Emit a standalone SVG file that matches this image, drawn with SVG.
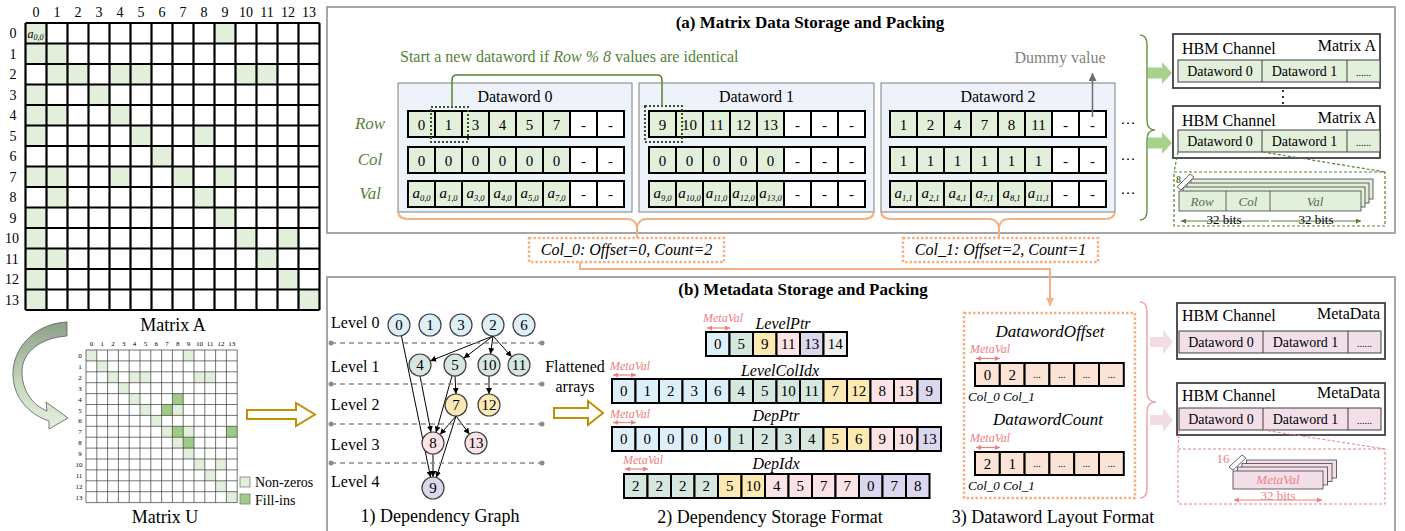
<svg xmlns="http://www.w3.org/2000/svg" width="1405" height="531" viewBox="0 0 1405 531">
<style>
text{font-family:'Liberation Serif','Times New Roman',serif;fill:#000}
.i{font-style:italic}
.b{font-weight:bold}
.c{text-anchor:middle}
.e{text-anchor:end}
.f7{font-size:7px}.f10{font-size:10px}.f12{font-size:12px}.f13{font-size:13px}.f14{font-size:14px}.f15{font-size:15px}.f16{font-size:16px}.f17{font-size:17px}.f18{font-size:18px}
.gt{fill:#548235}
.mv{fill:#ee8080;font-style:italic;font-size:12px}
.k{stroke:#000;stroke-width:2}
.B{fill:#ddeff8}.T{fill:#d5e7df}.Y{fill:#fde9b4}.P{fill:#fce3e6}.L{fill:#dbd7ee}.G{fill:#efefef}.O{fill:#fbe4d5}
.cg{fill:#e2efda;stroke:#000;stroke-width:2}
.cw{fill:#fff;stroke:#000;stroke-width:2}
.panel{fill:#fff;stroke:#a6a6a6;stroke-width:2}
.dw{fill:#eef3fb;stroke:#7f7f7f;stroke-width:1}
.nd{stroke:#404040;stroke-width:1.2}
.ed{stroke:#000;stroke-width:1;fill:none;marker-end:url(#ab)}
.or{stroke:#f4b183;fill:none;stroke-width:2}
.ord{stroke:#f4b183;fill:none;stroke-width:2.5;stroke-dasharray:2.5 2}
.pk{stroke:#ee8080;stroke-width:1.2;fill:none;marker-start:url(#ap);marker-end:url(#ap)}
.hb{fill:#fff;stroke:#404040;stroke-width:1.8}
.hg{fill:#e2efda;stroke:#404040;stroke-width:1}
.hp{fill:#f2dfe9;stroke:#404040;stroke-width:1}
.lv{stroke:#8c8c8c;stroke-width:1.5;stroke-dasharray:5 4}
</style>
<defs>
<linearGradient id="cgr" x1="0" y1="0" x2="0" y2="1">
<stop offset="0" stop-color="#8e9f89"/>
<stop offset="0.55" stop-color="#c4d6bb"/>
<stop offset="1" stop-color="#e6f1de"/>
</linearGradient>
<rect id="ga" width="21" height="20.5" fill="#e2efda"/>
<rect id="cgc" width="27" height="26" class="cg"/>
<rect id="cwc" width="27" height="26" class="cw"/>
<marker id="ab" viewBox="0 0 8 8" refX="8" refY="4" markerWidth="6" markerHeight="6" orient="auto" markerUnits="userSpaceOnUse"><path d="M0 0L8 4L0 8z" fill="#000"/></marker>
<marker id="ag" viewBox="0 0 8 8" refX="8" refY="4" markerWidth="8" markerHeight="8" orient="auto" markerUnits="userSpaceOnUse"><path d="M0 0L8 4L0 8z" fill="#6d6d6d"/></marker>
<marker id="ao" viewBox="0 0 8 8" refX="8" refY="4" markerWidth="8" markerHeight="8" orient="auto" markerUnits="userSpaceOnUse"><path d="M0 0L8 4L0 8z" fill="#f4b183"/></marker>
<marker id="ap" viewBox="0 0 8 8" refX="8" refY="4" markerWidth="5" markerHeight="5" orient="auto-start-reverse" markerUnits="userSpaceOnUse"><path d="M0 0L8 4L0 8z" fill="#ee8080"/></marker>
<marker id="agr" viewBox="0 0 8 8" refX="8" refY="4" markerWidth="5" markerHeight="5" orient="auto-start-reverse" markerUnits="userSpaceOnUse"><path d="M0 0L8 4L0 8z" fill="#548235"/></marker>
</defs>

<rect width="1405" height="531" fill="#fff"/>

<!-- Matrix A -->
<g id="matrixA">
<use href="#ga" x="25.5" y="23"/><use href="#ga" x="214.5" y="23"/>
<use href="#ga" x="25.5" y="43.5"/><use href="#ga" x="46.5" y="43.5"/>
<use href="#ga" x="46.5" y="64"/><use href="#ga" x="67.5" y="64"/><use href="#ga" x="109.5" y="64"/><use href="#ga" x="130.5" y="64"/><use href="#ga" x="235.5" y="64"/><use href="#ga" x="256.5" y="64"/>
<use href="#ga" x="25.5" y="84.5"/><use href="#ga" x="88.5" y="84.5"/>
<use href="#ga" x="25.5" y="105"/><use href="#ga" x="46.5" y="105"/><use href="#ga" x="109.5" y="105"/>
<use href="#ga" x="25.5" y="125.5"/><use href="#ga" x="130.5" y="125.5"/><use href="#ga" x="193.5" y="125.5"/>
<use href="#ga" x="151.5" y="146"/>
<use href="#ga" x="25.5" y="166.5"/><use href="#ga" x="46.5" y="166.5"/><use href="#ga" x="109.5" y="166.5"/><use href="#ga" x="172.5" y="166.5"/><use href="#ga" x="214.5" y="166.5"/>
<use href="#ga" x="46.5" y="187"/><use href="#ga" x="193.5" y="187"/>
<use href="#ga" x="25.5" y="207.5"/><use href="#ga" x="214.5" y="207.5"/>
<use href="#ga" x="25.5" y="228"/><use href="#ga" x="235.5" y="228"/><use href="#ga" x="277.5" y="228"/>
<use href="#ga" x="25.5" y="248.5"/><use href="#ga" x="46.5" y="248.5"/><use href="#ga" x="256.5" y="248.5"/>
<use href="#ga" x="25.5" y="269"/><use href="#ga" x="277.5" y="269"/>
<use href="#ga" x="25.5" y="289.5"/><use href="#ga" x="298.5" y="289.5"/>
<path fill="none" stroke="#000" stroke-width="2.2" d="M25.5 23V310M46.5 23V310M67.5 23V310M88.5 23V310M109.5 23V310M130.5 23V310M151.5 23V310M172.5 23V310M193.5 23V310M214.5 23V310M235.5 23V310M256.5 23V310M277.5 23V310M298.5 23V310M319.5 23V310M25.5 23H319.5M25.5 43.5H319.5M25.5 64H319.5M25.5 84.5H319.5M25.5 105H319.5M25.5 125.5H319.5M25.5 146H319.5M25.5 166.5H319.5M25.5 187H319.5M25.5 207.5H319.5M25.5 228H319.5M25.5 248.5H319.5M25.5 269H319.5M25.5 289.5H319.5M25.5 310H319.5"/>
<text class="i f12" x="27.5" y="38">a<tspan font-size="8" dy="2">0,0</tspan></text>
<text class="c f14" y="17"><tspan x="36">0</tspan><tspan x="57">1</tspan><tspan x="78">2</tspan><tspan x="99">3</tspan><tspan x="120">4</tspan><tspan x="141">5</tspan><tspan x="162">6</tspan><tspan x="183">7</tspan><tspan x="204">8</tspan><tspan x="225">9</tspan><tspan x="246">10</tspan><tspan x="267">11</tspan><tspan x="288">12</tspan><tspan x="309">13</tspan></text>
<text class="c f14"><tspan x="13" y="38">0</tspan><tspan x="13" y="58.5">1</tspan><tspan x="13" y="79">2</tspan><tspan x="13" y="99.5">3</tspan><tspan x="13" y="120">4</tspan><tspan x="13" y="140.5">5</tspan><tspan x="13" y="161">6</tspan><tspan x="13" y="181.5">7</tspan><tspan x="13" y="202">8</tspan><tspan x="13" y="222.5">9</tspan><tspan x="12" y="243">10</tspan><tspan x="12" y="263.5">11</tspan><tspan x="12" y="284">12</tspan><tspan x="12" y="304.5">13</tspan></text>
<text class="c f18" x="173" y="331">Matrix A</text>
</g>

<!-- curved arrow -->
<g id="curvedArrow">
<path d="M67 322C38 323 14 345 13 372C12 396 28 414 49 421L49 429L68 418L46 402L47 411C32 405 22 390 22 372C22 352 40 338 67 336Z" fill="url(#cgr)" stroke="#5a5a5a" stroke-width="0.8"/>
</g>

<!-- Matrix U -->
<g id="matrixU">
<g transform="translate(86 350) scale(10.8 10.9)">
<g fill="#e2efda">
<rect x="0" y="0" width="1" height="1"/><rect x="9" y="0" width="1" height="1"/><rect x="1" y="1" width="1" height="1"/>
<rect x="2" y="2" width="1" height="1"/><rect x="4" y="2" width="1" height="1"/><rect x="5" y="2" width="1" height="1"/><rect x="10" y="2" width="1" height="1"/><rect x="11" y="2" width="1" height="1"/>
<rect x="3" y="3" width="1" height="1"/><rect x="4" y="4" width="1" height="1"/><rect x="5" y="5" width="1" height="1"/><rect x="8" y="5" width="1" height="1"/>
<rect x="6" y="6" width="1" height="1"/><rect x="7" y="7" width="1" height="1"/><rect x="9" y="7" width="1" height="1"/><rect x="8" y="8" width="1" height="1"/>
<rect x="9" y="9" width="1" height="1"/><rect x="10" y="10" width="1" height="1"/><rect x="12" y="10" width="1" height="1"/><rect x="11" y="11" width="1" height="1"/>
<rect x="12" y="12" width="1" height="1"/><rect x="13" y="13" width="1" height="1"/>
</g>
<g fill="#9fcc85">
<rect x="8" y="4" width="1" height="1"/><rect x="7" y="5" width="1" height="1"/><rect x="8" y="7" width="1" height="1"/><rect x="13" y="7" width="1" height="1"/><rect x="9" y="8" width="1" height="1"/>
</g>
<path vector-effect="non-scaling-stroke" fill="none" stroke="#3a3a3a" stroke-width="0.7" d="M0 0V14M1 0V14M2 0V14M3 0V14M4 0V14M5 0V14M6 0V14M7 0V14M8 0V14M9 0V14M10 0V14M11 0V14M12 0V14M13 0V14M14 0V14M0 0H14M0 1H14M0 2H14M0 3H14M0 4H14M0 5H14M0 6H14M0 7H14M0 8H14M0 9H14M0 10H14M0 11H14M0 12H14M0 13H14M0 14H14"/>
</g>
<text class="c f7" y="346"><tspan x="91.4">0</tspan><tspan x="102.2">1</tspan><tspan x="113">2</tspan><tspan x="123.8">3</tspan><tspan x="134.6">4</tspan><tspan x="145.4">5</tspan><tspan x="156.2">6</tspan><tspan x="167">7</tspan><tspan x="177.8">8</tspan><tspan x="188.6">9</tspan><tspan x="199.4">10</tspan><tspan x="210.2">11</tspan><tspan x="221">12</tspan><tspan x="231.8">13</tspan></text>
<text class="c f7"><tspan x="80" y="358">0</tspan><tspan x="80" y="368.9">1</tspan><tspan x="80" y="379.8">2</tspan><tspan x="80" y="390.7">3</tspan><tspan x="80" y="401.6">4</tspan><tspan x="80" y="412.5">5</tspan><tspan x="80" y="423.4">6</tspan><tspan x="80" y="434.3">7</tspan><tspan x="80" y="445.2">8</tspan><tspan x="80" y="456.1">9</tspan><tspan x="79" y="467">10</tspan><tspan x="79" y="477.9">11</tspan><tspan x="79" y="488.8">12</tspan><tspan x="79" y="499.7">13</tspan></text>
<rect x="240" y="477" width="10" height="10" fill="#e2efda" stroke="#7f7f7f" stroke-width="0.8"/>
<text class="f14" x="255" y="487">Non-zeros</text>
<rect x="240" y="494" width="10" height="10" fill="#9fcc85" stroke="#7f7f7f" stroke-width="0.8"/>
<text class="f14" x="255" y="505">Fill-ins</text>
<text class="c f18" x="165" y="523">Matrix U</text>
</g>

<!-- hollow arrow 1 -->
<g id="hollowArrow1"><path d="M247 410H296V403L315 414.5L296 426V419H247Z" fill="#fff" stroke="#bf9000" stroke-width="2"/></g>

<!-- Panels -->
<rect class="panel" x="327" y="7" width="1068" height="226"/>
<rect class="panel" x="327" y="277" width="1068" height="262"/>
<text class="c b f17" x="810" y="28">(a) Matrix Data Storage and Packing</text>
<text class="c b f17" x="803" y="295">(b) Metadata Storage and Packing</text>

<!-- (a) -->
<text class="f16 gt" x="400" y="62">Start a new dataword if <tspan class="i">Row % 8</tspan> values are identical</text>
<g class="i f17 gt"><text class="c gt" x="370" y="129">Row</text><text class="c gt" x="370" y="165">Col</text><text class="c gt" x="370" y="199">Val</text></g>

<g id="dataword0">
<rect class="dw" x="398" y="83" width="234" height="129"/>
<text class="c f16" x="515" y="102">Dataword 0</text>
<use href="#cgc" x="408" y="111"/><use href="#cgc" x="435" y="111"/><use href="#cgc" x="462" y="111"/><use href="#cgc" x="489" y="111"/><use href="#cgc" x="516" y="111"/><use href="#cgc" x="543" y="111"/><use href="#cwc" x="570" y="111"/><use href="#cwc" x="597" y="111"/>
<use href="#cgc" x="408" y="147"/><use href="#cgc" x="435" y="147"/><use href="#cgc" x="462" y="147"/><use href="#cgc" x="489" y="147"/><use href="#cgc" x="516" y="147"/><use href="#cgc" x="543" y="147"/><use href="#cwc" x="570" y="147"/><use href="#cwc" x="597" y="147"/>
<use href="#cgc" x="408" y="181"/><use href="#cgc" x="435" y="181"/><use href="#cgc" x="462" y="181"/><use href="#cgc" x="489" y="181"/><use href="#cgc" x="516" y="181"/><use href="#cgc" x="543" y="181"/><use href="#cwc" x="570" y="181"/><use href="#cwc" x="597" y="181"/>
<text class="c f15" y="129.5"><tspan x="421.5">0</tspan><tspan x="448.5">1</tspan><tspan x="475.5">3</tspan><tspan x="502.5">4</tspan><tspan x="529.5">5</tspan><tspan x="556.5">7</tspan><tspan x="583.5">-</tspan><tspan x="610.5">-</tspan></text>
<text class="c f15" y="165.5"><tspan x="421.5">0</tspan><tspan x="448.5">0</tspan><tspan x="475.5">0</tspan><tspan x="502.5">0</tspan><tspan x="529.5">0</tspan><tspan x="556.5">0</tspan><tspan x="583.5">-</tspan><tspan x="610.5">-</tspan></text>
<text class="c f15 i"><tspan x="421.5" y="198">a<tspan font-size="8.5" dy="3">0,0</tspan></tspan><tspan x="448.5" y="198">a<tspan font-size="8.5" dy="3">1,0</tspan></tspan><tspan x="475.5" y="198">a<tspan font-size="8.5" dy="3">3,0</tspan></tspan><tspan x="502.5" y="198">a<tspan font-size="8.5" dy="3">4,0</tspan></tspan><tspan x="529.5" y="198">a<tspan font-size="8.5" dy="3">5,0</tspan></tspan><tspan x="556.5" y="198">a<tspan font-size="8.5" dy="3">7,0</tspan></tspan><tspan x="583.5" y="199" font-style="normal">-</tspan><tspan x="610.5" y="199" font-style="normal">-</tspan></text>
</g>

<g id="dataword1">
<rect class="dw" x="639" y="83" width="235" height="129"/>
<text class="c f16" x="756.5" y="102">Dataword 1</text>
<use href="#cgc" x="649" y="111"/><use href="#cgc" x="676" y="111"/><use href="#cgc" x="703" y="111"/><use href="#cgc" x="730" y="111"/><use href="#cgc" x="757" y="111"/><use href="#cwc" x="784" y="111"/><use href="#cwc" x="811" y="111"/><use href="#cwc" x="838" y="111"/>
<use href="#cgc" x="649" y="147"/><use href="#cgc" x="676" y="147"/><use href="#cgc" x="703" y="147"/><use href="#cgc" x="730" y="147"/><use href="#cgc" x="757" y="147"/><use href="#cwc" x="784" y="147"/><use href="#cwc" x="811" y="147"/><use href="#cwc" x="838" y="147"/>
<use href="#cgc" x="649" y="181"/><use href="#cgc" x="676" y="181"/><use href="#cgc" x="703" y="181"/><use href="#cgc" x="730" y="181"/><use href="#cgc" x="757" y="181"/><use href="#cwc" x="784" y="181"/><use href="#cwc" x="811" y="181"/><use href="#cwc" x="838" y="181"/>
<text class="c f15" y="129.5"><tspan x="662.5">9</tspan><tspan x="689.5">10</tspan><tspan x="716.5">11</tspan><tspan x="743.5">12</tspan><tspan x="770.5">13</tspan><tspan x="797.5">-</tspan><tspan x="824.5">-</tspan><tspan x="851.5">-</tspan></text>
<text class="c f15" y="165.5"><tspan x="662.5">0</tspan><tspan x="689.5">0</tspan><tspan x="716.5">0</tspan><tspan x="743.5">0</tspan><tspan x="770.5">0</tspan><tspan x="797.5">-</tspan><tspan x="824.5">-</tspan><tspan x="851.5">-</tspan></text>
<text class="c f15 i"><tspan x="662.5" y="198">a<tspan font-size="8.5" dy="3">9,0</tspan></tspan><tspan x="689.5" y="198">a<tspan font-size="8.5" dy="3">10,0</tspan></tspan><tspan x="716.5" y="198">a<tspan font-size="8.5" dy="3">11,0</tspan></tspan><tspan x="743.5" y="198">a<tspan font-size="8.5" dy="3">12,0</tspan></tspan><tspan x="770.5" y="198">a<tspan font-size="8.5" dy="3">13,0</tspan></tspan><tspan x="797.5" y="199" font-style="normal">-</tspan><tspan x="824.5" y="199" font-style="normal">-</tspan><tspan x="851.5" y="199" font-style="normal">-</tspan></text>
</g>

<g id="dataword2">
<rect class="dw" x="881" y="83" width="234" height="129"/>
<text class="c f16" x="998" y="102">Dataword 2</text>
<use href="#cgc" x="890" y="111"/><use href="#cgc" x="917" y="111"/><use href="#cgc" x="944" y="111"/><use href="#cgc" x="971" y="111"/><use href="#cgc" x="998" y="111"/><use href="#cgc" x="1025" y="111"/><use href="#cwc" x="1052" y="111"/><use href="#cwc" x="1079" y="111"/>
<use href="#cgc" x="890" y="147"/><use href="#cgc" x="917" y="147"/><use href="#cgc" x="944" y="147"/><use href="#cgc" x="971" y="147"/><use href="#cgc" x="998" y="147"/><use href="#cgc" x="1025" y="147"/><use href="#cwc" x="1052" y="147"/><use href="#cwc" x="1079" y="147"/>
<use href="#cgc" x="890" y="181"/><use href="#cgc" x="917" y="181"/><use href="#cgc" x="944" y="181"/><use href="#cgc" x="971" y="181"/><use href="#cgc" x="998" y="181"/><use href="#cgc" x="1025" y="181"/><use href="#cwc" x="1052" y="181"/><use href="#cwc" x="1079" y="181"/>
<text class="c f15" y="129.5"><tspan x="903.5">1</tspan><tspan x="930.5">2</tspan><tspan x="957.5">4</tspan><tspan x="984.5">7</tspan><tspan x="1011.5">8</tspan><tspan x="1038.5">11</tspan><tspan x="1065.5">-</tspan><tspan x="1092.5">-</tspan></text>
<text class="c f15" y="165.5"><tspan x="903.5">1</tspan><tspan x="930.5">1</tspan><tspan x="957.5">1</tspan><tspan x="984.5">1</tspan><tspan x="1011.5">1</tspan><tspan x="1038.5">1</tspan><tspan x="1065.5">-</tspan><tspan x="1092.5">-</tspan></text>
<text class="c f15 i"><tspan x="903.5" y="198">a<tspan font-size="8.5" dy="3">1,1</tspan></tspan><tspan x="930.5" y="198">a<tspan font-size="8.5" dy="3">2,1</tspan></tspan><tspan x="957.5" y="198">a<tspan font-size="8.5" dy="3">4,1</tspan></tspan><tspan x="984.5" y="198">a<tspan font-size="8.5" dy="3">7,1</tspan></tspan><tspan x="1011.5" y="198">a<tspan font-size="8.5" dy="3">8,1</tspan></tspan><tspan x="1038.5" y="198">a<tspan font-size="8.5" dy="3">11,1</tspan></tspan><tspan x="1065.5" y="199" font-style="normal">-</tspan><tspan x="1092.5" y="199" font-style="normal">-</tspan></text>
</g>
<text class="c f15" y="128"><tspan x="1128">···</tspan><tspan x="1128" y="164">···</tspan><tspan x="1128" y="198">···</tspan></text>

<text class="c f16" x="1060" y="63" style="fill:#7f7f7f">Dummy value</text>

<!-- HBM (a) -->
<g id="hbmA1">
<rect class="hb" x="1173" y="34" width="207" height="54"/>
<text class="f16" x="1182" y="54">HBM Channel</text>
<text class="f16 e" x="1376" y="51">Matrix A</text>
<rect class="hg" x="1178" y="60" width="202" height="22"/>
<path d="M1262 60V82M1347 60V82" stroke="#404040" stroke-width="1"/>
<text class="c f14" x="1220" y="76">Dataword 0</text>
<text class="c f14" x="1304.5" y="76">Dataword 1</text>
<text class="c f10" x="1363.5" y="76">......</text>
</g>
<g id="hbmDots"><circle cx="1283" cy="91" r="1.1"/><circle cx="1283" cy="97" r="1.1"/><circle cx="1283" cy="103" r="1.1"/></g>
<g id="hbmA2">
<rect class="hb" x="1173" y="106" width="207" height="52"/>
<text class="f16" x="1182" y="126">HBM Channel</text>
<text class="f16 e" x="1376" y="123">Matrix A</text>
<rect class="hg" x="1178" y="130" width="202" height="22"/>
<path d="M1262 130V152M1347 130V152" stroke="#404040" stroke-width="1"/>
<text class="c f14" x="1220" y="146">Dataword 0</text>
<text class="c f14" x="1304.5" y="146">Dataword 1</text>
<text class="c f10" x="1363.5" y="146">......</text>
</g>
<g id="packA">
<rect x="1174" y="172" width="211" height="54" fill="none" stroke="#548235" stroke-width="1.2" stroke-dasharray="3 2"/>
<path d="M1178 152L1174 172M1263 152L1385 172" stroke="#548235" stroke-width="1.2" stroke-dasharray="3 2" fill="none"/>
<g fill="#e2efda" stroke="#404040" stroke-width="0.8">
<rect x="1191" y="179" width="182" height="20"/>
<rect x="1187" y="183" width="182" height="20"/>
<rect x="1183" y="187" width="182" height="20"/>
<rect x="1179" y="191" width="182" height="20"/>
</g>
<path d="M1226 191V211M1270 191V211" stroke="#404040" stroke-width="0.8"/>
<polygon points="1177,187 1190,174 1194,177 1181,190" fill="#fff" stroke="#404040" stroke-width="0.8"/>
<text class="b f10 gt" x="1176" y="183">8</text>
<text class="c i f13" x="1202" y="206" style="fill:#5b6b52">Row</text>
<text class="c i f13" x="1248" y="206" style="fill:#5b6b52">Col</text>
<text class="c i f13" x="1315" y="206" style="fill:#5b6b52">Val</text>
<path d="M1181 221H1269M1271 221H1361" stroke="#548235" stroke-width="1" marker-start="url(#agr)" marker-end="url(#agr)" fill="none"/>
<text class="c f13" x="1224" y="224">32 bits</text>
<text class="c f13" x="1316" y="224">32 bits</text>
</g>
<g id="arrowsA">
<path d="M1140 35Q1147 35 1147 45V120Q1147 130 1155 130Q1147 130 1147 140V210Q1147 220 1140 220" fill="none" stroke="#6a9a4a" stroke-width="1.5"/>
<path d="M1148 67.5H1162V62L1172 73L1162 84V78.5H1148Z" fill="#a9d18e"/>
<path d="M1148 137.5H1162V132L1172 143L1162 154V148.5H1148Z" fill="#a9d18e"/>
</g>

<!-- offset boxes -->
<g id="col0box"><rect class="ord" x="529" y="238" width="195" height="24"/><text class="c i f16" x="626.5" y="255">Col_0: Offset=0, Count=2</text></g>
<g id="col1box"><rect class="ord" x="903" y="238" width="195" height="24"/><text class="c i f16" x="1000.5" y="255">Col_1: Offset=2, Count=1</text></g>

<!-- connectors -->
<g id="connectors">
<rect x="431" y="107" width="37" height="35" fill="none" stroke="#375623" stroke-width="2" stroke-dasharray="2 2"/>
<rect x="645" y="106" width="37" height="36" fill="none" stroke="#375623" stroke-width="2" stroke-dasharray="2 2"/>
<path d="M452 107V80Q452 75 457 75H657Q662 75 662 80V106" fill="none" stroke="#548235" stroke-width="1.5"/>
<path d="M1092.5 117V73" stroke="#6d6d6d" stroke-width="1.5" marker-end="url(#ag)"/>
<path class="or" d="M398 212Q399 219 408 219H627Q636 219 637 228Q638 219 647 219H864Q873 219 874 212M637 228V238"/>
<path class="or" d="M881 212Q882 219 891 219H989Q998 219 999 228Q1000 219 1009 219H1105Q1114 219 1115 212M999 228V238"/>
<path class="or" d="M580 262V269H1050V306" marker-end="url(#ao)"/>
<line class="ed" x1="401.4" y1="335.7" x2="430.6" y2="477.3"/>
<line class="ed" x1="493" y1="336" x2="430.2" y2="360.9"/>
<line class="ed" x1="493" y1="336" x2="463.7" y2="358.3"/>
<line class="ed" x1="493" y1="336" x2="490.5" y2="354.1"/>
<line class="ed" x1="493" y1="336" x2="511.7" y2="356.8"/>
<line class="ed" x1="455" y1="376" x2="456" y2="394"/>
<line class="ed" x1="489" y1="376" x2="489" y2="394"/>
<line class="ed" x1="420" y1="376" x2="431" y2="432"/>
<line class="ed" x1="452" y1="376" x2="436" y2="432.5"/>
<line class="ed" x1="456" y1="416" x2="440.1" y2="434.6"/>
<line class="ed" x1="456" y1="416" x2="469.5" y2="434.2"/>
<line class="ed" x1="456" y1="416" x2="436.3" y2="477.5"/>
<line class="ed" x1="433" y1="454" x2="433" y2="477"/>
<path d="M1140 302Q1147 302 1147 312V392Q1147 402 1156 402Q1147 402 1147 412V488Q1147 498 1140 498" fill="none" stroke="#f4a3a3" stroke-width="1.5"/>
<path d="M1150 337H1163V330L1173 342L1163 354V347H1150Z" fill="#f2dce6"/>
<path d="M1150 415H1163V408L1173 420L1163 432V425H1150Z" fill="#f2dce6"/>
</g>

<!-- (b) dependency graph -->
<g id="levels">
<text class="f16" x="331" y="328">Level 0</text>
<text class="f16" x="331" y="372">Level 1</text>
<text class="f16" x="331" y="410">Level 2</text>
<text class="f16" x="331" y="450">Level 3</text>
<text class="f16" x="331" y="487">Level 4</text>
<path class="lv" d="M331 343H542M331 384H542M331 424H542M331 463H542"/>
<g fill="#8c8c8c"><circle cx="331" cy="343" r="2.5"/><circle cx="542" cy="343" r="2.5"/><circle cx="331" cy="384" r="2.5"/><circle cx="542" cy="384" r="2.5"/><circle cx="331" cy="424" r="2.5"/><circle cx="542" cy="424" r="2.5"/><circle cx="331" cy="463" r="2.5"/><circle cx="542" cy="463" r="2.5"/></g>
</g>
<g id="node0"><circle class="nd B" cx="399" cy="325" r="11"/><text class="c f15" x="399" y="330">0</text></g>
<g id="node1"><circle class="nd B" cx="430" cy="325" r="11"/><text class="c f15" x="430" y="330">1</text></g>
<g id="node3"><circle class="nd B" cx="461" cy="325" r="11"/><text class="c f15" x="461" y="330">3</text></g>
<g id="node2"><circle class="nd B" cx="493" cy="325" r="11"/><text class="c f15" x="493" y="330">2</text></g>
<g id="node6"><circle class="nd B" cx="524" cy="325" r="11"/><text class="c f15" x="524" y="330">6</text></g>
<g id="node4"><circle class="nd T" cx="420" cy="365" r="11"/><text class="c f15" x="420" y="370">4</text></g>
<g id="node5"><circle class="nd T" cx="455" cy="365" r="11"/><text class="c f15" x="455" y="370">5</text></g>
<g id="node10"><circle class="nd T" cx="489" cy="365" r="11"/><text class="c f15" x="489" y="370">10</text></g>
<g id="node11"><circle class="nd T" cx="519" cy="365" r="11"/><text class="c f15" x="519" y="370">11</text></g>
<g id="node7"><circle class="nd Y" cx="456" cy="405" r="11"/><text class="c f15" x="456" y="410">7</text></g>
<g id="node12"><circle class="nd Y" cx="489" cy="405" r="11"/><text class="c f15" x="489" y="410">12</text></g>
<g id="node8"><circle class="nd P" cx="433" cy="443" r="11"/><text class="c f15" x="433" y="448">8</text></g>
<g id="node13"><circle class="nd P" cx="476" cy="443" r="11"/><text class="c f15" x="476" y="448">13</text></g>
<g id="node9"><circle class="nd L" cx="433" cy="488" r="11"/><text class="c f15" x="433" y="493">9</text></g>
<text class="c f18" x="440" y="522">1) Dependency Graph</text>

<text class="c f16" x="575" y="372">Flattened</text>
<text class="c f16" x="575" y="392">arrays</text>
<g id="hollowArrow2"><path d="M554 408H588V401L603 413L588 425V418H554Z" fill="#fff" stroke="#bf9000" stroke-width="2"/></g>

<!-- storage format -->
<g id="levelPtr">
<text class="mv c" x="723" y="322">MetaVal</text>
<path class="pk" d="M707 328H730"/>
<text class="c i f16" x="783" y="329">LevelPtr</text>
<rect class="k B" x="706" y="332" width="23.5" height="24"/><rect class="k T" x="729.5" y="332" width="23.5" height="24"/><rect class="k Y" x="753" y="332" width="23.5" height="24"/><rect class="k P" x="776.5" y="332" width="23.5" height="24"/><rect class="k L" x="800" y="332" width="23.5" height="24"/><rect class="k G" x="823.5" y="332" width="23.5" height="24"/>
<text class="c f15" y="349"><tspan x="717.75">0</tspan><tspan x="741.25">5</tspan><tspan x="764.75">9</tspan><tspan x="788.25">11</tspan><tspan x="811.75">13</tspan><tspan x="835.25">14</tspan></text>
</g>
<g id="levelColIdx">
<text class="mv c" x="630" y="370">MetaVal</text>
<path class="pk" d="M613 375H636"/>
<text class="c i f16" x="780" y="376">LevelColIdx</text>
<rect class="k B" x="612" y="379" width="23.5" height="24"/><rect class="k B" x="635.5" y="379" width="23.5" height="24"/><rect class="k B" x="659" y="379" width="23.5" height="24"/><rect class="k B" x="682.5" y="379" width="23.5" height="24"/><rect class="k B" x="706" y="379" width="23.5" height="24"/><rect class="k T" x="729.5" y="379" width="23.5" height="24"/><rect class="k T" x="753" y="379" width="23.5" height="24"/><rect class="k T" x="776.5" y="379" width="23.5" height="24"/><rect class="k T" x="800" y="379" width="23.5" height="24"/><rect class="k Y" x="823.5" y="379" width="23.5" height="24"/><rect class="k Y" x="847" y="379" width="23.5" height="24"/><rect class="k P" x="870.5" y="379" width="23.5" height="24"/><rect class="k P" x="894" y="379" width="23.5" height="24"/><rect class="k L" x="917.5" y="379" width="23.5" height="24"/>
<text class="c f15" y="396"><tspan x="623.75">0</tspan><tspan x="647.25">1</tspan><tspan x="670.75">2</tspan><tspan x="694.25">3</tspan><tspan x="717.75">6</tspan><tspan x="741.25">4</tspan><tspan x="764.75">5</tspan><tspan x="788.25">10</tspan><tspan x="811.75">11</tspan><tspan x="835.25">7</tspan><tspan x="858.75">12</tspan><tspan x="882.25">8</tspan><tspan x="905.75">13</tspan><tspan x="929.25">9</tspan></text>
</g>
<g id="depPtr">
<text class="mv c" x="630" y="418">MetaVal</text>
<path class="pk" d="M613 422.5H636"/>
<text class="c i f16" x="776" y="421">DepPtr</text>
<rect class="k B" x="612" y="427" width="23.5" height="24"/><rect class="k B" x="635.5" y="427" width="23.5" height="24"/><rect class="k B" x="659" y="427" width="23.5" height="24"/><rect class="k B" x="682.5" y="427" width="23.5" height="24"/><rect class="k B" x="706" y="427" width="23.5" height="24"/><rect class="k T" x="729.5" y="427" width="23.5" height="24"/><rect class="k T" x="753" y="427" width="23.5" height="24"/><rect class="k T" x="776.5" y="427" width="23.5" height="24"/><rect class="k T" x="800" y="427" width="23.5" height="24"/><rect class="k Y" x="823.5" y="427" width="23.5" height="24"/><rect class="k Y" x="847" y="427" width="23.5" height="24"/><rect class="k P" x="870.5" y="427" width="23.5" height="24"/><rect class="k P" x="894" y="427" width="23.5" height="24"/><rect class="k L" x="917.5" y="427" width="23.5" height="24"/>
<text class="c f15" y="444"><tspan x="623.75">0</tspan><tspan x="647.25">0</tspan><tspan x="670.75">0</tspan><tspan x="694.25">0</tspan><tspan x="717.75">0</tspan><tspan x="741.25">1</tspan><tspan x="764.75">2</tspan><tspan x="788.25">3</tspan><tspan x="811.75">4</tspan><tspan x="835.25">5</tspan><tspan x="858.75">6</tspan><tspan x="882.25">9</tspan><tspan x="905.75">10</tspan><tspan x="929.25">13</tspan></text>
</g>
<g id="depIdx">
<text class="mv c" x="643" y="464">MetaVal</text>
<path class="pk" d="M625 469H648"/>
<text class="c i f16" x="776" y="469">DepIdx</text>
<rect class="k T" x="624" y="474" width="23.5" height="24"/><rect class="k T" x="647.5" y="474" width="23.5" height="24"/><rect class="k T" x="671" y="474" width="23.5" height="24"/><rect class="k T" x="694.5" y="474" width="23.5" height="24"/><rect class="k Y" x="718" y="474" width="23.5" height="24"/><rect class="k Y" x="741.5" y="474" width="23.5" height="24"/><rect class="k P" x="765" y="474" width="23.5" height="24"/><rect class="k P" x="788.5" y="474" width="23.5" height="24"/><rect class="k P" x="812" y="474" width="23.5" height="24"/><rect class="k P" x="835.5" y="474" width="23.5" height="24"/><rect class="k L" x="859" y="474" width="23.5" height="24"/><rect class="k L" x="882.5" y="474" width="23.5" height="24"/><rect class="k L" x="906" y="474" width="23.5" height="24"/>
<text class="c f15" y="491"><tspan x="635.75">2</tspan><tspan x="659.25">2</tspan><tspan x="682.75">2</tspan><tspan x="706.25">2</tspan><tspan x="729.75">5</tspan><tspan x="753.25">10</tspan><tspan x="776.75">4</tspan><tspan x="800.25">5</tspan><tspan x="823.75">7</tspan><tspan x="847.25">7</tspan><tspan x="870.75">0</tspan><tspan x="894.25">7</tspan><tspan x="917.75">8</tspan></text>
</g>
<text class="c f18" x="770" y="523">2) Dependency Storage Format</text>

<!-- dataword layout -->
<g id="datawordLayout">
<rect class="ord" x="964" y="313" width="171" height="185"/>
<text class="c i f17" x="1050" y="337">DatawordOffset</text>
<text class="mv c" x="990" y="353">MetaVal</text>
<path class="pk" d="M976 358.5H1000"/>
<rect class="k O" x="975" y="363" width="24.8" height="23"/><rect class="k O" x="999.8" y="363" width="24.8" height="23"/><rect class="k O" x="1024.6" y="363" width="24.8" height="23"/><rect class="k O" x="1049.4" y="363" width="24.8" height="23"/><rect class="k O" x="1074.2" y="363" width="24.8" height="23"/><rect class="k O" x="1099" y="363" width="24.8" height="23"/>
<text class="c f15" y="380"><tspan x="987.4">0</tspan><tspan x="1012.2">2</tspan></text>
<text class="c f10" y="378"><tspan x="1037">...</tspan><tspan x="1061.8">...</tspan><tspan x="1086.6">...</tspan><tspan x="1111.4">...</tspan></text>
<text class="i f13" x="968" y="401">Col_0 Col_1</text>
<text class="c i f17" x="1048" y="425">DatawordCount</text>
<text class="mv c" x="990" y="442">MetaVal</text>
<path class="pk" d="M976 447.5H1000"/>
<rect class="k O" x="975" y="452" width="24.8" height="23"/><rect class="k O" x="999.8" y="452" width="24.8" height="23"/><rect class="k O" x="1024.6" y="452" width="24.8" height="23"/><rect class="k O" x="1049.4" y="452" width="24.8" height="23"/><rect class="k O" x="1074.2" y="452" width="24.8" height="23"/><rect class="k O" x="1099" y="452" width="24.8" height="23"/>
<text class="c f15" y="469"><tspan x="987.4">2</tspan><tspan x="1012.2">1</tspan></text>
<text class="c f10" y="467"><tspan x="1037">...</tspan><tspan x="1061.8">...</tspan><tspan x="1086.6">...</tspan><tspan x="1111.4">...</tspan></text>
<text class="i f13" x="968" y="490">Col_0 Col_1</text>
</g>
<text class="c f18" x="1053" y="523">3) Dataword Layout Format</text>

<!-- HBM (b) -->
<g id="hbmM1">
<rect class="hb" x="1177" y="303" width="208" height="56"/>
<text class="f16" x="1182" y="321">HBM Channel</text>
<text class="f16 e" x="1380" y="319">MetaData</text>
<rect class="hp" x="1179" y="331" width="202" height="22"/>
<path d="M1263 331V353M1348 331V353" stroke="#404040" stroke-width="1"/>
<text class="c f14" x="1221" y="347">Dataword 0</text>
<text class="c f14" x="1305.5" y="347">Dataword 1</text>
<text class="c f10" x="1364.5" y="347">......</text>
</g>
<g id="hbmM2">
<rect class="hb" x="1177" y="383" width="208" height="52"/>
<text class="f16" x="1182" y="401">HBM Channel</text>
<text class="f16 e" x="1380" y="398">MetaData</text>
<rect class="hp" x="1179" y="408" width="202" height="22"/>
<path d="M1263 408V430M1348 408V430" stroke="#404040" stroke-width="1"/>
<text class="c f14" x="1221" y="424">Dataword 0</text>
<text class="c f14" x="1305.5" y="424">Dataword 1</text>
<text class="c f10" x="1364.5" y="424">......</text>
</g>
<g id="packM">
<rect x="1178" y="449" width="207" height="55" fill="none" stroke="#ee8080" stroke-width="1" stroke-dasharray="3 2"/>
<path d="M1179 430L1178 449M1263 430L1385 449" stroke="#ee8080" stroke-width="1" stroke-dasharray="3 2" fill="none"/>
<g fill="#f2dfe9" stroke="#404040" stroke-width="0.8">
<rect x="1246.5" y="460" width="90" height="18"/>
<rect x="1242" y="463.5" width="90" height="18"/>
<rect x="1237.5" y="467" width="90" height="18"/>
<rect x="1233" y="471" width="90" height="18"/>
</g>
<polygon points="1229,467 1242,455 1246,458 1233,470" fill="#fff" stroke="#404040" stroke-width="0.8"/>
<text class="c f13" x="1223" y="463" style="fill:#ee8080">16</text>
<text class="c i f13" x="1278" y="484" style="fill:#ee8080">MetaVal</text>
<path class="pk" d="M1234 500H1322"/>
<text class="c f13" x="1278" y="500" style="fill:#ee8080">32 bits</text>
</g>
</svg>
